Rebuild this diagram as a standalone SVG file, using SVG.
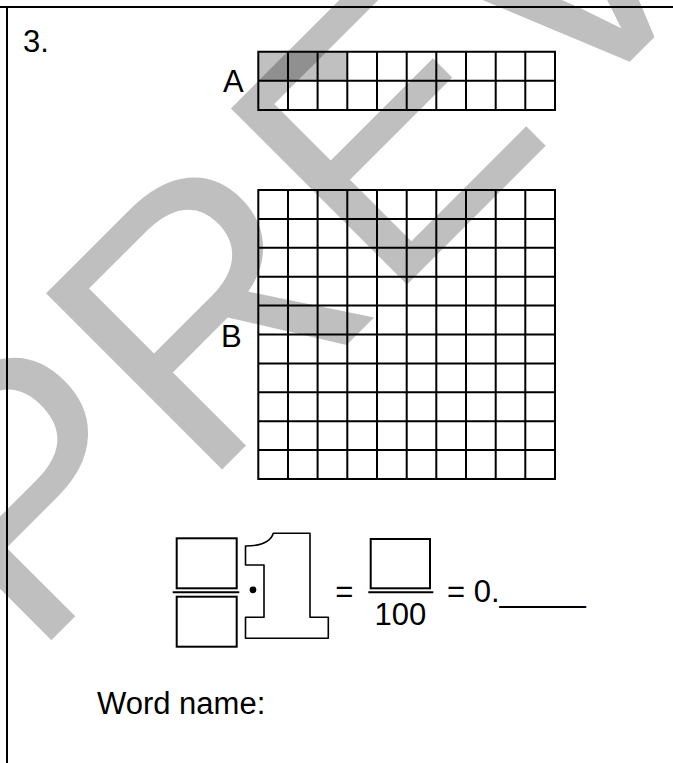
<svg xmlns="http://www.w3.org/2000/svg" width="673" height="763" viewBox="0 0 673 763">
<style>
  .t { font-family: "Liberation Sans", Arial, sans-serif; font-size: 31px; fill: #000; }
  .ln { stroke: #000; stroke-width: 2; fill: none; }
  .thin { stroke: #000; stroke-width: 1.6; fill: none; stroke-linejoin: round; }
  .shade { fill: #c0c0c0; }
  .wm { font-family: "Liberation Sans", Arial, sans-serif; font-size: 362px; fill: #000; fill-opacity: 0.25; }
</style>
<rect x="0" y="0" width="673" height="763" fill="#fff"/>
<g id="frame">
  <path class="ln" d="M0,7 H673 M7,7 V763"/>
</g>
<g id="question-number">
  <text class="t" x="23" y="52">3.</text>
</g>
<g id="grid-a">
  <text class="t" x="223" y="91.5">A</text>
  <rect class="shade" x="258.3" y="51.7" width="89" height="29"/>
  <path class="ln" d="M258.3,51.7 H555 V110 H258.3 Z M258.3,80.8 H555 M288,51.7 V110 M317.6,51.7 V110 M347.3,51.7 V110 M377,51.7 V110 M406.7,51.7 V110 M436.3,51.7 V110 M466,51.7 V110 M495.7,51.7 V110 M525.3,51.7 V110"/>
</g>
<g id="grid-b">
  <text class="t" x="221" y="346.5">B</text>
  <path class="ln" d="M258.3,190 H555 V479 H258.3 Z M258.3,218.9 H555 M258.3,247.8 H555 M258.3,276.7 H555 M258.3,305.6 H555 M258.3,334.5 H555 M258.3,363.4 H555 M258.3,392.3 H555 M258.3,421.2 H555 M258.3,450.1 H555 M288,190 V479 M317.6,190 V479 M347.3,190 V479 M377,190 V479 M406.7,190 V479 M436.3,190 V479 M466,190 V479 M495.7,190 V479 M525.3,190 V479"/>
</g>
<g id="equation">
  <rect class="ln" x="176.7" y="538.3" width="60" height="50"/>
  <path class="ln" d="M172.7,592.3 H239.3"/>
  <rect class="ln" x="176.7" y="596.7" width="60" height="50"/>
  <circle cx="253" cy="589.8" r="3.4" fill="#000"/>
  <path class="thin" d="M245.5,546 C262,546 271,541 273.3,533.3 L310,533.3 L310,617.3 L328.3,617.3 L328.3,638.3 L245.5,638.3 L245.5,617.3 L264,617.3 L264,565 L245.5,565 Z"/>
  <text class="t" x="335.2" y="602">=</text>
  <rect class="ln" x="370.7" y="539" width="59.3" height="49.3"/>
  <path class="ln" d="M368.3,592.3 H433.3"/>
  <text class="t" x="400.3" y="625" text-anchor="middle">100</text>
  <text class="t" x="447" y="601.7">= 0._____</text>
</g>
<g id="word-name">
  <text class="t" x="97" y="714.3">Word name:</text>
</g>
<g id="connectors"/>
<g id="watermark">
  <text class="wm" transform="rotate(-45)" x="-446" y="489">PREVIEW</text>
</g>
</svg>
